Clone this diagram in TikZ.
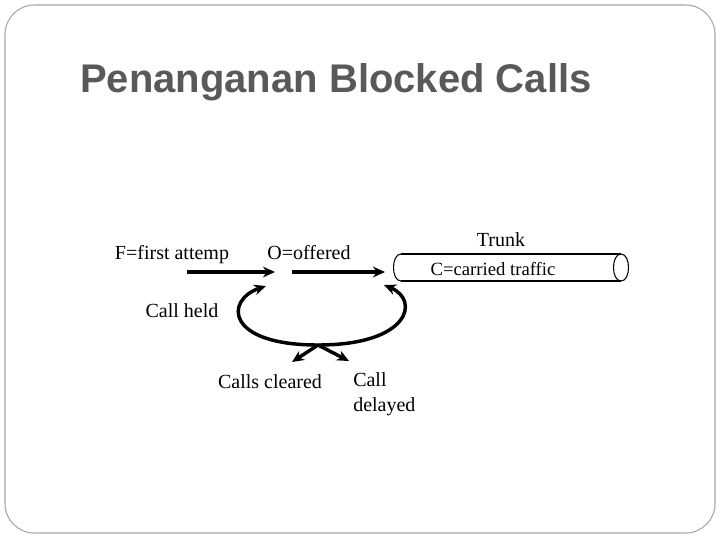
\documentclass[tikz,border=0pt]{standalone}
\usepackage{fontspec}
\setmainfont{Liberation Serif}
\newfontfamily\titlefont{Liberation Sans}
\usetikzlibrary{arrows.meta}
\begin{document}
\begin{tikzpicture}[x=0.75pt,y=-0.75pt,
  lbl/.style={font=\fontsize{15}{17}\selectfont,inner sep=0pt},
  arr/.style={line width=2.6pt,-{Stealth[length=9pt,width=8pt]}}]
\useasboundingbox (0,0) rectangle (720,540);
\draw[gray!70,rounded corners=22pt,line width=0.8pt] (5,5) rectangle (715,533);
\node[anchor=west,inner sep=0pt,font=\titlefont\bfseries\fontsize{30}{36}\selectfont,text=black!65] (title) at (80,82) {Penanganan Blocked Calls};
\node[lbl] (f) at (172,255) {F=first attemp};
\node[lbl] (o) at (309,253) {O=offered};
\node[lbl] (trunk) at (501,240) {Trunk};
\node[lbl,font=\fontsize{14}{16}\selectfont] (c) at (493,269) {C=carried traffic};
\node[lbl] (held) at (182,311) {Call held};
\node[lbl] (cleared) at (270,382) {Calls cleared};
\node[lbl,align=left,anchor=north west] (delayed) at (353,372) {Call\\[2pt]delayed};
% cylinder
\draw[line width=0.8pt] (401,254) -- (621,254) (401,281) -- (621,281);
\draw[line width=0.8pt] (401,254) .. controls (391,254) and (391,281) .. (401,281);
\draw[line width=0.8pt] (621,254) .. controls (611,254) and (611,281) .. (621,281) .. controls (631,281) and (631,254) .. (621,254);
\coordinate (a1) at (187,272); \coordinate (a2) at (275,272);
\coordinate (b1) at (292,272); \coordinate (b2) at (385,272);
\draw[arr] (a1) -- (a2);
\draw[arr] (b1) -- (b2);
\coordinate (l1) at (266,286); \coordinate (bot) at (318,345); \coordinate (r1) at (384,285);
\draw[line width=2.6pt,{Stealth[length=9pt,width=8pt]}-{Stealth[length=9pt,width=8pt]}] (l1) .. controls (225,300) and (225,345) .. (bot) .. controls (410,345) and (420,300) .. (r1);
\coordinate (x1) at (292,362); \coordinate (x2) at (349,361);
\draw[arr] (bot) -- (x1);
\draw[arr] (bot) -- (x2);
\end{tikzpicture}
\end{document}
